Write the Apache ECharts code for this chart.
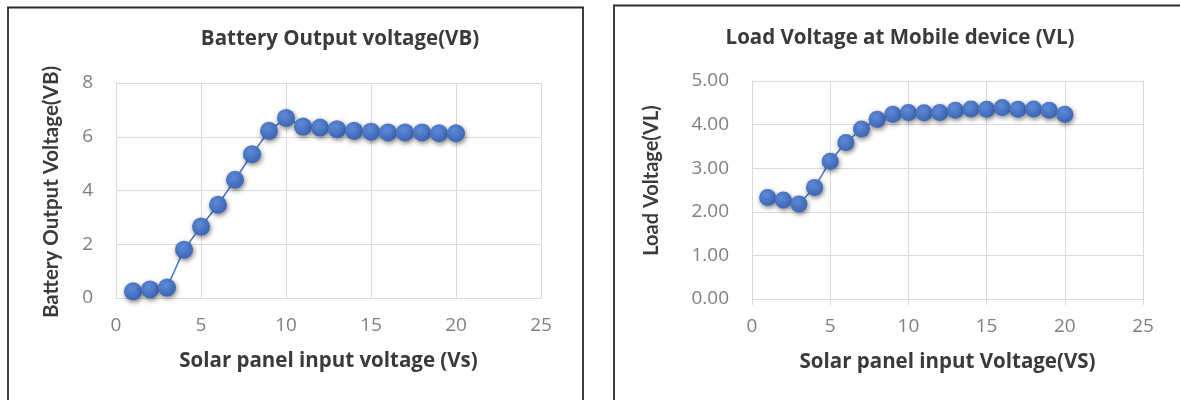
<!DOCTYPE html>
<html>
<head>
<meta charset="utf-8">
<script src="https://cdn.jsdelivr.net/npm/echarts@6/dist/echarts.min.js"></script>
<style>
html,body{margin:0;padding:0;background:#fff;}
#c{width:1180px;height:400px;}
</style>
</head>
<body>
<div id="c"></div>
<script>
// ---- data ----
var solarInput = [1,2,3,4,5,6,7,8,9,10,11,12,13,14,15,16,17,18,19,20];
var batteryVB = [0.25,0.32,0.39,1.80,2.66,3.47,4.40,5.35,6.22,6.70,6.38,6.34,6.28,6.22,6.19,6.16,6.16,6.16,6.13,6.13];
var loadVL = [2.33,2.27,2.18,2.56,3.16,3.59,3.90,4.12,4.24,4.28,4.27,4.28,4.33,4.36,4.35,4.39,4.35,4.36,4.33,4.24];
var xTicks = [0,5,10,15,20,25];
var vbTicks = [0,2,4,6,8];
var vlTicks = [0,1,2,3,4,5];
var titleLeft = 'Battery Output voltage(VB)';
var titleRight = 'Load Voltage at Mobile device (VL)';
var xNameLeft = 'Solar panel input voltage (Vs)';
var xNameRight = 'Solar panel input Voltage(VS)';
var yNameLeft = 'Battery Output Voltage(VB)';
var yNameRight = 'Load Voltage(VL)';

function pairs(xs, ys){ return xs.map(function(x,i){ return [x, ys[i]]; }); }

var HFONT = 'Open Sans';
var VFONT = 'Lato';
var gridColor = '#d9d9d9';
var labelColor = '#7f7f7f';
var titleColor = '#3a3a3a';
var blue = '#4472c4';

var markerStyle = {
  color: {type:'radial', x:0.4, y:0.35, r:0.7, colorStops:[{offset:0,color:'#5d8ad6'},{offset:1,color:'#3a63b3'}]},
  shadowBlur: 5, shadowColor: 'rgba(0,0,0,0.5)', shadowOffsetX: 1, shadowOffsetY: 2
};

function xAxis(idx, ticks, name, showTicks){
  return {
    type:'value', gridIndex: idx, min: ticks[0], max: ticks[ticks.length-1], interval: ticks[1]-ticks[0],
    name: name, nameLocation:'middle', nameGap: 53,
    nameTextStyle:{fontFamily:HFONT, fontWeight:'bold', fontSize:20.5, color:titleColor},
    axisLine:{show:true, lineStyle:{color:gridColor, width:1}},
    axisTick:{show:showTicks, length:6, lineStyle:{color:gridColor}},
    axisLabel:{fontFamily:HFONT, fontSize:19, color:labelColor, margin:18},
    splitLine:{show:true, lineStyle:{color:gridColor, width:1}}
  };
}
function yAxis(idx, ticks, name, gap, decimals, pad, size){
  return {
    type:'value', gridIndex: idx, min: ticks[0], max: ticks[ticks.length-1], interval: ticks[1]-ticks[0],
    name: name, nameLocation:'middle', nameGap: gap,
    nameTextStyle:{fontFamily:VFONT, fontWeight:'bold', fontSize:size, color:titleColor, padding: pad},
    axisLine:{show:false}, axisTick:{show:false},
    axisLabel:{fontFamily:HFONT, fontSize:19, color:labelColor, margin:23,
      formatter:function(v){ return v.toFixed(decimals); }},
    splitLine:{show:true, lineStyle:{color:gridColor, width:1}}
  };
}

var chart = echarts.init(document.getElementById('c'), null, {renderer:'canvas'});
chart.setOption({
  animation:false,
  backgroundColor:'#fff',
  grid:[
    {left:116, top:83, width:425, height:215},
    {left:752, top:81, width:391, height:218}
  ],
  xAxis:[ xAxis(0, xTicks, xNameLeft, false), xAxis(1, xTicks, xNameRight, true) ],
  yAxis:[ yAxis(0, vbTicks, yNameLeft, 54, 0, [0,3,0,0], 20.5), yAxis(1, vlTicks, yNameRight, 90, 2, [0,0,0,19], 20) ],
  series:[
    {type:'line', xAxisIndex:0, yAxisIndex:0, data: pairs(solarInput, batteryVB),
     symbol:'circle', symbolSize:18, lineStyle:{color:blue, width:1.5}, itemStyle: markerStyle},
    {type:'line', xAxisIndex:1, yAxisIndex:1, data: pairs(solarInput, loadVL),
     symbol:'circle', symbolSize:17, lineStyle:{color:blue, width:1.5}, itemStyle: markerStyle}
  ],
  graphic:[
    {type:'rect', shape:{x:8, y:7.5, width:575, height:420}, style:{fill:null, stroke:'#2b2b2b', lineWidth:1.8}, silent:true},
    {type:'rect', shape:{x:614, y:5.5, width:600, height:420}, style:{fill:null, stroke:'#2b2b2b', lineWidth:1.8}, silent:true},
    {type:'text', x:340, y:39, style:{text:titleLeft, fontFamily:HFONT, fontWeight:'bold', fontSize:20.5, fill:titleColor, align:'center', verticalAlign:'middle'}},
    {type:'text', x:900, y:38, style:{text:titleRight, fontFamily:HFONT, fontWeight:'bold', fontSize:20.5, fill:titleColor, align:'center', verticalAlign:'middle'}}
  ]
});
</script>
</body>
</html>
